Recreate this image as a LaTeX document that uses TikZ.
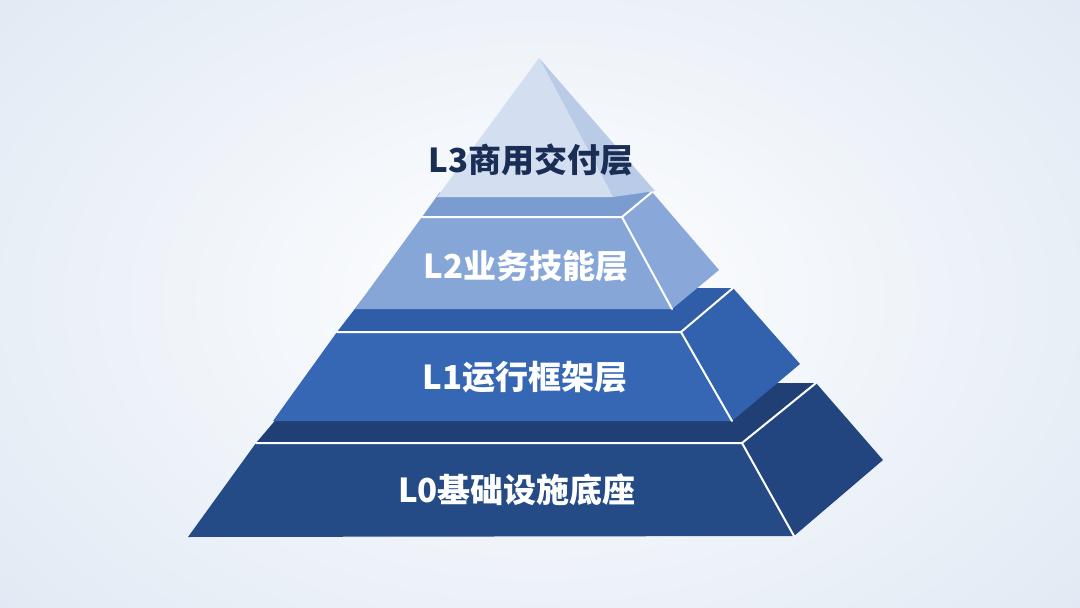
\documentclass[tikz,border=0pt]{standalone}
\usepackage{fontspec}
\newfontfamily\cjk{Noto Sans CJK SC}
\definecolor{bgblue}{HTML}{DCE6F2}
\definecolor{zfront}{HTML}{254B87}
\definecolor{ztop}{HTML}{203F75}
\definecolor{zside}{HTML}{22457F}
\definecolor{afront}{HTML}{3667B5}
\definecolor{atop}{HTML}{2F5DA8}
\definecolor{aside}{HTML}{3262AE}
\definecolor{bfront}{HTML}{87A6D8}
\definecolor{btop}{HTML}{7B9CD1}
\definecolor{bside}{HTML}{89A8D9}
\definecolor{cfront}{HTML}{D3DFF0}
\definecolor{cside}{HTML}{B9CBE6}
\definecolor{navytext}{HTML}{1A2E55}
\tikzset{
  edgeline/.style={draw=white, line width=2pt, line cap=round, line join=round},
  lbl/.style={font=\cjk\bfseries\fontsize{33}{36}\selectfont, text=white, inner sep=0pt, anchor=center},
}
\begin{document}
\begin{tikzpicture}[x=1pt,y=-1pt]
\useasboundingbox (0,0) rectangle (1080,608);
\begin{scope}
  \clip (0,0) rectangle (1080,608);
  \fill[bgblue] (0,0) rectangle (1080,608);
  \shade[inner color=white, outer color=bgblue] (540,300) ellipse [x radius=820, y radius=560];
\end{scope}

% L0 base
\coordinate (z1) at (188,537); \coordinate (z2) at (794,536);
\coordinate (z3) at (742,443); \coordinate (z4) at (256,443);
\coordinate (z5) at (816,383); \coordinate (z6) at (307,383);
\coordinate (z7) at (883,460);
\fill[ztop] (z4) -- (z3) -- (z5) -- (z6) -- cycle;
\fill[zside] (z3) -- (z5) -- (z7) -- (z2) -- cycle;
\fill[zfront] (z1) -- (z2) -- (z3) -- (z4) -- cycle;
\draw[edgeline] (z4) -- (z3) -- (z2);
\draw[edgeline] (z3) -- (z5);

% L1
\coordinate (a1) at (273,421); \coordinate (a2) at (732,421);
\coordinate (a3) at (681,332); \coordinate (a4) at (337,332);
\coordinate (a5) at (733,288); \coordinate (a6) at (371,288);
\coordinate (a7) at (800,364);
\fill[atop] (a4) -- (a3) -- (a5) -- (a6) -- cycle;
\fill[aside] (a3) -- (a5) -- (a7) -- (a2) -- cycle;
\fill[afront] (a1) -- (a2) -- (a3) -- (a4) -- cycle;
\draw[edgeline] (a4) -- (a3) -- (a2);
\draw[edgeline] (a3) -- (a5);

% L2
\coordinate (b1) at (355,309); \coordinate (b2) at (672,309);
\coordinate (b3) at (622,217); \coordinate (b4) at (422,217);
\coordinate (b5) at (652,192); \coordinate (b6) at (440,192);
\coordinate (b7) at (719,270);
\fill[btop] (b4) -- (b3) -- (b5) -- (b6) -- cycle;
\fill[bside] (b3) -- (b5) -- (b7) -- (b2) -- cycle;
\fill[bfront] (b1) -- (b2) -- (b3) -- (b4) -- cycle;
\draw[edgeline] (b4) -- (b3) -- (b2);
\draw[edgeline] (b3) -- (b5);

% L3 pyramid
\coordinate (c0) at (539,58); \coordinate (c1) at (437,197);
\coordinate (c2) at (613,197); \coordinate (c3) at (655,191);
\fill[cside] (c0) -- (c2) -- (c3) -- cycle;
\fill[cfront] (c0) -- (c1) -- (c2) -- cycle;

% labels
\node[lbl, text=navytext] (t3) at (531,160) {L3商用交付层};
\node[lbl] (t2) at (526,266) {L2业务技能层};
\node[lbl] (t1) at (525,377) {L1运行框架层};
\node[lbl] (t0) at (517,490) {L0基础设施底座};
\end{tikzpicture}
\end{document}
